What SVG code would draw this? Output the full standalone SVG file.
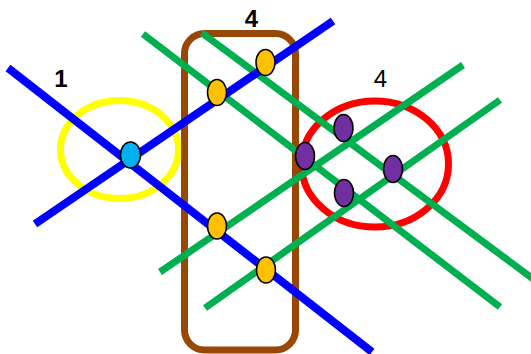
<svg xmlns="http://www.w3.org/2000/svg" width="531" height="354" viewBox="0 0 531 354">
  <style>
    .ring { fill: none; stroke-width: 7; }
    .blue { stroke: #0000ff; stroke-width: 8; }
    .green { stroke: #00b050; stroke-width: 7; }
    .node { stroke: #000; stroke-width: 1.5; }
    .orange { fill: #ffc000; }
    .purple { fill: #7030a0; }
    .cyan { fill: #00b0f0; }
    .label { font-family: "Liberation Sans", Arial, sans-serif; font-size: 24px; fill: #000; text-anchor: middle; }
  </style>

  <rect width="531" height="354" fill="#fff"/>

  <!-- Groupings -->
  <g id="group-yellow">
    <ellipse class="ring" cx="119.5" cy="149.5" rx="59" ry="49" stroke="#ffff00"/>
  </g>
  <g id="group-red">
    <ellipse class="ring" cx="375" cy="164" rx="73.5" ry="63" stroke="#ff0000"/>
  </g>
  <g id="group-brown">
    <rect class="ring" x="184.5" y="33.5" width="111" height="316.5" rx="20" stroke="#974706"/>
  </g>

  <!-- Lines -->
  <g id="connectors">
    <line class="green" x1="143" y1="34" x2="500" y2="307"/>
    <line class="green" x1="202" y1="33" x2="540" y2="284"/>
    <line class="green" x1="160" y1="272" x2="463" y2="65"/>
    <line class="green" x1="205" y1="308" x2="500" y2="100"/>
    <line class="blue" x1="8" y1="68" x2="372" y2="352"/>
    <line class="blue" x1="35" y1="224" x2="333" y2="21"/>
  </g>

  <!-- Intersection nodes -->
  <g id="node-cyan"><ellipse class="node cyan" cx="130.5" cy="155" rx="10" ry="13"/></g>
  <g id="node-o1"><ellipse class="node orange" cx="217" cy="92.5" rx="9.5" ry="13"/></g>
  <g id="node-o2"><ellipse class="node orange" cx="265.5" cy="62.5" rx="9.5" ry="13"/></g>
  <g id="node-o3"><ellipse class="node orange" cx="217" cy="226" rx="9.5" ry="13"/></g>
  <g id="node-o4"><ellipse class="node orange" cx="266" cy="270" rx="9.5" ry="13"/></g>
  <g id="node-p1"><ellipse class="node purple" cx="305" cy="156" rx="9.5" ry="13.5"/></g>
  <g id="node-p2"><ellipse class="node purple" cx="343.5" cy="128" rx="9.5" ry="13.5"/></g>
  <g id="node-p3"><ellipse class="node purple" cx="344" cy="193" rx="9.5" ry="13.5"/></g>
  <g id="node-p4"><ellipse class="node purple" cx="393" cy="169" rx="9.5" ry="13.5"/></g>

  <!-- Labels -->
  <text class="label" x="61" y="86.5" font-weight="bold">1</text>
  <text class="label" x="251.5" y="26.5" font-weight="bold">4</text>
  <text class="label" x="380.5" y="86.5">4</text>
</svg>
